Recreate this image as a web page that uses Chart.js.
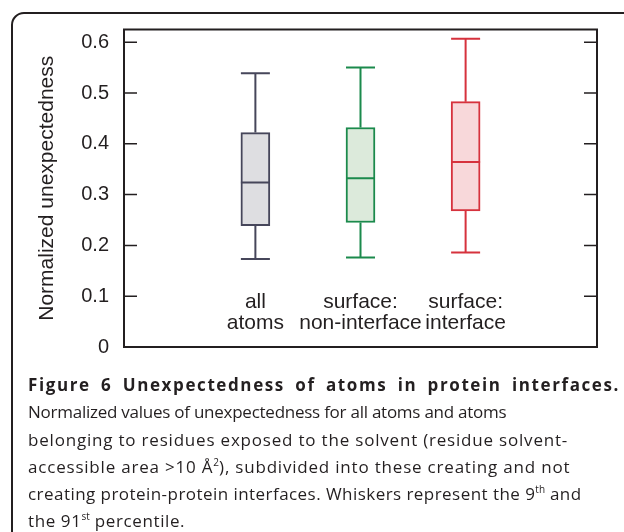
<!DOCTYPE html>
<html>
<head>
<meta charset="utf-8">
<script src="https://cdn.jsdelivr.net/npm/chart.js@4.4.1/dist/chart.umd.min.js"></script>
<style>
  html, body { margin: 0; padding: 0; background: #fff; }
  body { width: 624px; height: 532px; position: relative; overflow: hidden; }
  .frame {
    position: absolute; left: 11px; top: 12px; width: 700px; height: 600px;
    border: 2px solid #231f20; border-radius: 13px; box-sizing: border-box;
  }
  .plot { position: absolute; left: 0; top: 0; width: 624px; height: 374px; }
  .caption {
    position: absolute; left: 28px; top: 371px; width: 592px;
    font-family: "Open Sans", sans-serif; font-size: 17px; line-height: 27.3px;
    color: #231f20;
  }
  .caption div { white-space: nowrap; }
  .caption .title {
    font-weight: bold; letter-spacing: 1.6px;
    text-align: justify; text-align-last: justify;
  }
  .caption .l2 { letter-spacing: -0.25px; }
  .caption .l3 { letter-spacing: 0.8px; }
  .caption .l4 { letter-spacing: 0.8px; }
  .caption .l5 { letter-spacing: 0.45px; }
  .caption .l6 { letter-spacing: 0.6px; }
  .caption sup { font-size: 10px; line-height: 0; vertical-align: 7px; letter-spacing: 0; }
</style>
</head>
<body>
<div class="frame"></div>
<div class="plot"><canvas id="boxChart" width="624" height="374"></canvas></div>
<div class="caption">
  <div class="title">Figure 6 Unexpectedness of atoms in protein interfaces.</div>
  <div class="l2">Normalized values of unexpectedness for all atoms and atoms</div>
  <div class="l3">belonging to residues exposed to the solvent (residue solvent-</div>
  <div class="l4">accessible area &gt;10 Å<sup>2</sup>), subdivided into these creating and not</div>
  <div class="l5">creating protein-protein interfaces. Whiskers represent the 9<sup>th</sup> and</div>
  <div class="l6">the 91<sup>st</sup> percentile.</div>
</div>
<script>
// box plot statistics per group (9th / 25th / 50th / 75th / 91st percentile)
const categories = [["all", "atoms"], ["surface:", "non-interface"], ["surface:", "interface"]];
const whiskerLow = [0.173, 0.176, 0.186];
const q1 = [0.239, 0.245, 0.268];
const median = [0.324, 0.332, 0.364];
const q3 = [0.422, 0.432, 0.483];
const whiskerHigh = [0.539, 0.550, 0.607];

const strokeColors = ["#46465a", "#1b8a4c", "#d6323d"];
const fillColors = ["#dedee1", "#dceadb", "#f8d8da"];

const ink = "#231f20";
const fontFamily = "'Liberation Sans', Arial, sans-serif";

// whiskers, caps and median lines, drawn with the chart's own scales
const whiskerPlugin = {
  id: "whiskers",
  afterDatasetsDraw(chart) {
    const ctx = chart.ctx;
    const x = chart.scales.x, y = chart.scales.y;
    const half = 14.5;
    ctx.save();
    ctx.lineWidth = 2;
    categories.forEach((c, i) => {
      const cx = x.getPixelForValue(i + 1);
      ctx.strokeStyle = strokeColors[i];
      ctx.beginPath();
      // upper whisker + cap
      ctx.moveTo(cx, y.getPixelForValue(q3[i]));
      ctx.lineTo(cx, y.getPixelForValue(whiskerHigh[i]));
      ctx.moveTo(cx - half, y.getPixelForValue(whiskerHigh[i]));
      ctx.lineTo(cx + half, y.getPixelForValue(whiskerHigh[i]));
      // lower whisker + cap
      ctx.moveTo(cx, y.getPixelForValue(q1[i]));
      ctx.lineTo(cx, y.getPixelForValue(whiskerLow[i]));
      ctx.moveTo(cx - half, y.getPixelForValue(whiskerLow[i]));
      ctx.lineTo(cx + half, y.getPixelForValue(whiskerLow[i]));
      // median
      ctx.moveTo(cx - half, y.getPixelForValue(median[i]));
      ctx.lineTo(cx + half, y.getPixelForValue(median[i]));
      ctx.stroke();
    });
    ctx.restore();
  }
};

// closed frame with inward ticks on both sides, plus group names inside the plot
const framePlugin = {
  id: "frame",
  afterDraw(chart) {
    const ctx = chart.ctx;
    const { left, right, top, bottom } = chart.chartArea;
    const x = chart.scales.x, y = chart.scales.y;
    ctx.save();
    ctx.strokeStyle = ink;
    ctx.lineWidth = 2;
    ctx.strokeRect(left, top, right - left, bottom - top);
    ctx.beginPath();
    y.ticks.forEach(t => {
      const py = y.getPixelForValue(t.value);
      if (t.value <= 0) return;
      ctx.moveTo(left, py); ctx.lineTo(left + 13, py);
      ctx.moveTo(right, py); ctx.lineTo(right - 13, py);
    });
    ctx.lineWidth = 1.5;
    ctx.stroke();

    ctx.fillStyle = ink;
    ctx.font = "21px " + fontFamily;
    ctx.textAlign = "center";
    ctx.textBaseline = "alphabetic";
    categories.forEach((lines, i) => {
      const cx = x.getPixelForValue(i + 1);
      lines.forEach((txt, j) => {
        ctx.fillText(txt, cx, bottom - 39.5 + j * 21);
      });
    });
    ctx.restore();
  }
};

const ctx = document.getElementById("boxChart").getContext("2d");
const chart = new Chart(ctx, {
  type: "bar",
  data: {
    datasets: [{
      data: categories.map((c, i) => ({ x: i + 1, y: [q1[i], q3[i]] })),
      backgroundColor: fillColors,
      borderColor: strokeColors,
      borderWidth: 2,
      borderSkipped: false,
      barThickness: 29
    }]
  },
  options: {
    responsive: false,
    animation: false,
    layout: { padding: { left: 35, top: 29.5, right: 27, bottom: 27 } },
    plugins: {
      legend: { display: false },
      tooltip: { enabled: false }
    },
    scales: {
      x: {
        type: "linear",
        min: 0,
        max: 4,
        display: false
      },
      y: {
        min: 0,
        max: 0.625,
        grid: { display: false, drawTicks: false },
        border: { display: false },
        ticks: {
          stepSize: 0.1,
          includeBounds: false,
          padding: 15,
          color: ink,
          font: { family: fontFamily, size: 20 }
        },
        title: {
          display: true,
          text: "Normalized unexpectedness",
          color: ink,
          font: { family: fontFamily, size: 21 },
          padding: 0
        },
        afterFit(scale) { scale.width = 89; }
      }
    }
  },
  plugins: [whiskerPlugin, framePlugin]
});
</script>
</body>
</html>
